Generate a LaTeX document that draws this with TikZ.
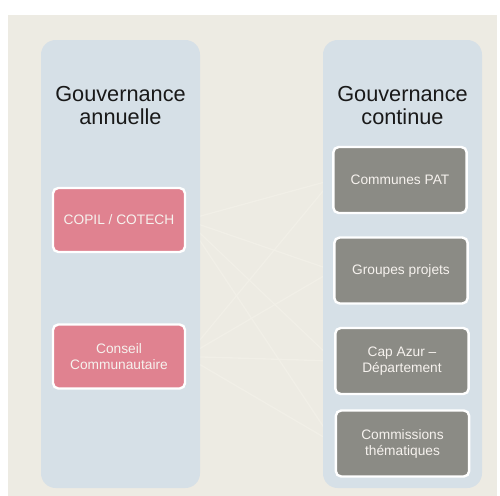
\documentclass[tikz,border=0pt]{standalone}
\usepackage{fontspec}
\setmainfont{Liberation Sans}
\definecolor{bgbeige}{HTML}{EDEBE3}
\definecolor{panelblue}{HTML}{D6E0E7}
\definecolor{rosebox}{HTML}{E08290}
\definecolor{greybox}{HTML}{8B8B85}
\definecolor{boxtext}{HTML}{F6F2EE}
\definecolor{faintline}{HTML}{F1EFE7}
\pgfdeclarelayer{bg}
\pgfdeclarelayer{mid}
\pgfsetlayers{bg,mid,main}
\tikzset{every picture/.style={line width=0.75pt}}
\tikzset{
  panel/.style={fill=panelblue, draw=none, rounded corners=11pt},
  title/.style={inner sep=0.75pt, align=center, text=black!90, font=\fontsize{16.3}{17.3}\selectfont},
  rosecell/.style={draw=white, line width=1.8pt, fill=rosebox, rounded corners=4pt, minimum width=99pt, minimum height=48pt, text=boxtext, align=center, font=\fontsize{10.3}{12}\selectfont},
  greycell/.style={rosecell, fill=greybox, minimum width=100pt, minimum height=49.5pt},
  link/.style={draw=faintline, line width=1pt}
}
\begin{document}
\begin{tikzpicture}[x=0.75pt,y=0.75pt,yscale=-1,xscale=1]
\useasboundingbox (0,0) rectangle (500,496);

%Shape: Rectangle [id:background]
\begin{pgfonlayer}{bg}
\fill[bgbeige] (8,15) rectangle (497,496);
\end{pgfonlayer}
%Shape: Rounded Rect [id:panel annuelle]
\path[panel] (41,40) rectangle (200,488);
%Shape: Rounded Rect [id:panel continue]
\path[panel] (323,40) rectangle (482,488);

% Text Node
\node[title] (titleleft) at (120.5,105.5) {Gouvernance\\annuelle};
% Text Node
\node[title] (titleright) at (402.5,105.5) {Gouvernance\\continue};

% Boxes annual
\node[rosecell] (copil) at (119,220) {COPIL / COTECH};
\node[rosecell] (conseil) at (119,356.5) {Conseil\\Communautaire};

% Boxes continuous
\node[greycell] (communes) at (400,180) {Communes PAT};
\node[greycell] (groupes) at (401,270.5) {Groupes projets};
\node[greycell] (capazur) at (402,361) {Cap Azur --\\Département};
\node[greycell] (commissions) at (402.5,443.5) {Commissions\\thématiques};

% faint links, under the panels
\begin{pgfonlayer}{mid}
\foreach \dst in {communes,groupes,capazur,commissions}{
  \path[link] (copil.east) -- (\dst.west);
  \path[link] (conseil.east) -- (\dst.west);
}
\end{pgfonlayer}
\end{tikzpicture}
\end{document}
